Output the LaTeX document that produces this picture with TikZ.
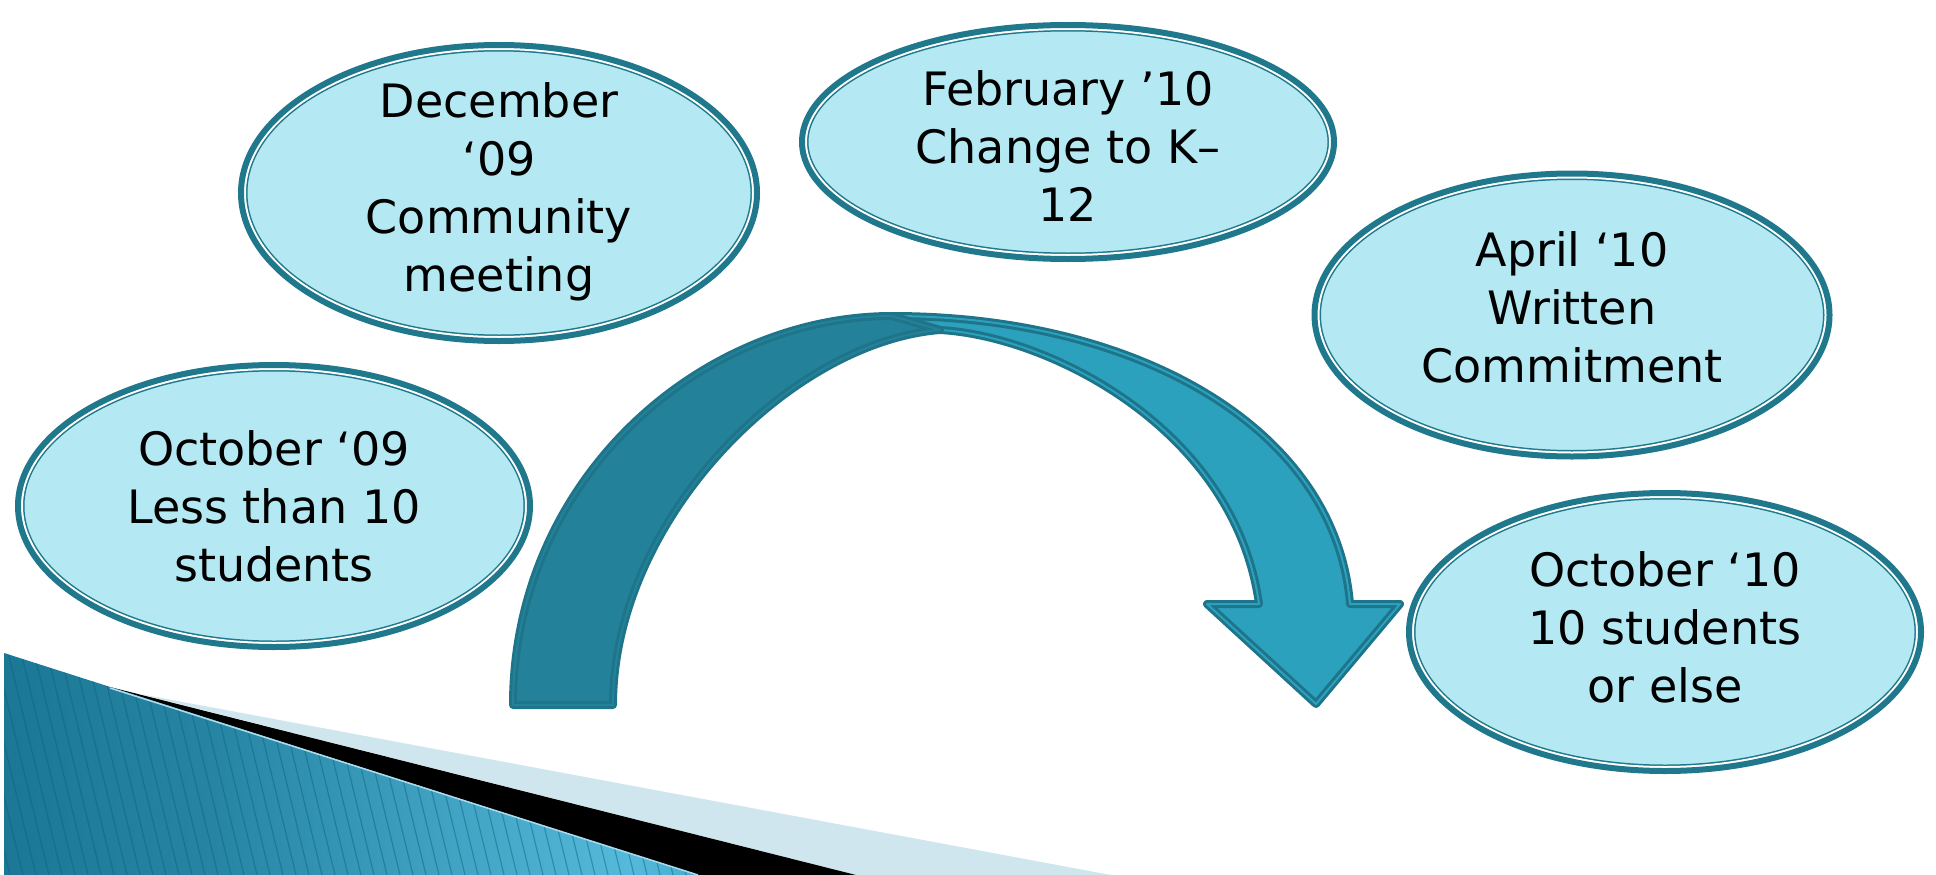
\documentclass[tikz,border=0pt]{standalone}
\usepackage{fontspec}
\setmainfont{DejaVu Sans}
\usepackage{tikz}
\usetikzlibrary{shapes.geometric,calc}

\definecolor{evfill}{HTML}{B4E9F4}
\definecolor{evline}{HTML}{1F788C}
\definecolor{arrdark}{HTML}{24819A}
\definecolor{arrlight}{HTML}{2CA1BE}
\definecolor{arrline}{HTML}{1E7489}
\definecolor{bluedark}{HTML}{08627E}
\definecolor{bluemid}{HTML}{55B9DB}
\definecolor{blueright}{HTML}{0E7C9D}
\definecolor{dotband}{HTML}{D0E6EF}
\pgfdeclarehorizontalshading{bluefade}{100bp}{color(0bp)=(bluedark); color(40bp)=(bluedark!60!bluemid);
  color(70bp)=(bluemid); color(88bp)=(blueright!70!bluemid); color(100bp)=(blueright)}
\newcommand{\evfont}{\fontsize{46}{58}\selectfont}
% inner ring of an event ellipse, drawn inside its own border
\newcommand{\evring}[2]{\draw[#1, line width=#2]
  let \p1=($(path picture bounding box.north east)-(path picture bounding box.center)$) in
  (path picture bounding box.center) ellipse [x radius=\x1, y radius=\y1];}

\begin{document}
\begin{tikzpicture}[x=1pt, y=-1pt]
\tikzstyle{event}=[ellipse, inner sep=0pt, fill=evfill, draw=evline, line width=6pt,
  path picture={\evring{evline}{13pt}\evring{white}{10pt}}]
\tikzstyle{evtext}=[align=center, font=\evfont, text=black]
\tikzstyle{band}=[draw=arrline, line width=3pt, double distance=2pt, line join=round]
\useasboundingbox (0,0) rectangle (1936,875);

% corner decoration
\fill[dotband] (140,694) -- (1111,875) -- (856,875) -- cycle;
\fill[black] (110,687) -- (856,875) -- (698,875) -- cycle;
\begin{scope}
\clip (4,653) -- (698,875) -- (4,875) -- cycle;
\shade[shading=bluefade] (4,653) rectangle (698,875);
\foreach \s in {-60,-47,...,700}
  \draw[bluedark, opacity=0.45, line width=1.2pt] (\s,640) -- ++(57,235);
\end{scope}
\draw[bluemid!50!white, line width=1.5pt] (110,688) -- (698,875);

% events
\node[event, minimum width=512pt, minimum height=282pt,
  label={[evtext]center:October ‘09\\Less than 10\\students}] (oct09) at (274,506) {};
\node[event, minimum width=516pt, minimum height=296pt,
  label={[evtext, yshift=1pt]center:December\\‘09\\Community\\meeting}] (dec09) at (499,193) {};
\node[event, minimum width=532pt, minimum height=234pt,
  label={[evtext, yshift=-4pt]center:February ’10\\Change to K–\\12}] (feb10) at (1068,142) {};
\node[event, minimum width=515pt, minimum height=283pt,
  label={[evtext, yshift=8pt]center:April ‘10\\Written\\Commitment}] (apr10) at (1572,315) {};
\node[event, minimum width=512pt, minimum height=278pt,
  label={[evtext, yshift=5pt]center:October ‘10\\10 students\\or else}] (oct10) at (1665,632) {};

% curved arrow
\filldraw[band, fill=arrlight, double=arrlight] (892,316) .. controls (1140,316) and (1336,430) .. (1350,604)
  -- (1400,604) -- (1316,704) -- (1207,604) -- (1259,604)
  .. controls (1235,430) and (1050,336) .. (940,330) -- cycle;
\filldraw[band, fill=arrdark, double=arrdark] (513,705) .. controls (513,480) and (700,316) .. (892,316)
  -- (940,330) .. controls (790,342) and (613,520) .. (613,705) -- cycle;
\end{tikzpicture}
\end{document}
